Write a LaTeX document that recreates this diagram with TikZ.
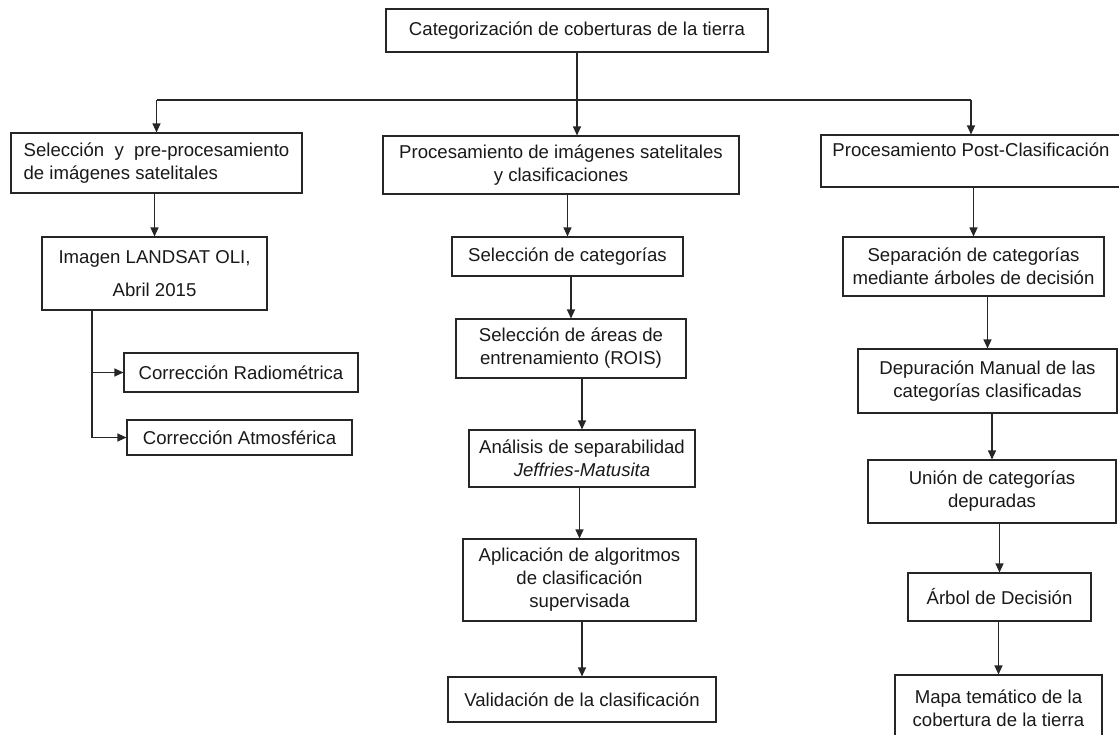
\documentclass[tikz,border=0pt]{standalone}
\usepackage{fontspec}
\setmainfont{Liberation Sans}
\usetikzlibrary{arrows.meta}
\begin{document}
\begin{tikzpicture}[x=1pt,y=-1pt,
  >={Triangle[length=9pt,width=8pt]},
  caja/.style={draw=black!85, line width=1.1pt, inner sep=2pt, align=center,
    text=black!90, font=\fontsize{18.6}{23}\selectfont},
  flecha/.style={->, draw=black!85, line width=1.1pt}]
\useasboundingbox (0,0) rectangle (1119,734);
% nivel superior
\node[caja, minimum width=382, minimum height=43] (cat) at (577,30.5) {Categorización de coberturas de la tierra};
\node[caja, align=left, minimum width=291, minimum height=60] (sel) at (156.5,163) {Selección\ \ y\ \ pre-procesamiento\\de imágenes satelitales};
\node[caja, minimum width=356, minimum height=58] (proc) at (561,165) {Procesamiento de imágenes satelitales\\y clasificaciones};
\node[caja, minimum width=300, minimum height=52] (post) at (971,161) {Procesamiento Post-Clasificación\\\mbox{}};
\coordinate (bus) at (0,100);
\coordinate (ramal) at (92,0);
% columna izquierda
\node[caja, minimum width=225, minimum height=73] (img) at (154.5,273.5) {Imagen LANDSAT OLI,\\[10pt]Abril 2015};
\node[caja, minimum width=234, minimum height=39] (rad) at (241,372.5) {Corrección Radiométrica};
\node[caja, minimum width=225, minimum height=35] (atm) at (239.5,437.5) {Corrección Atmosférica};
% columna central
\node[caja, minimum width=231, minimum height=39] (cats) at (567.5,256.5) {Selección de categorías};
\node[caja, minimum width=230, minimum height=59] (roi) at (571,348.5) {Selección de áreas de\\entrenamiento (ROIS)};
\node[caja, minimum width=226, minimum height=57] (ana) at (582,458.5) {Análisis de separabilidad\\\textit{Jeffries-Matusita}};
\node[caja, minimum width=233, minimum height=82] (apl) at (579.5,580) {Aplicación de algoritmos\\de clasificación\\supervisada};
\node[caja, minimum width=268, minimum height=45] (val) at (582,699.5) {Validación de la clasificación};
% columna derecha
\node[caja, minimum width=261, minimum height=59] (sep) at (973.5,266.5) {Separación de categorías\\mediante árboles de decisión};
\node[caja, minimum width=259, minimum height=64] (dep) at (987.5,381) {Depuración Manual de las\\categorías clasificadas};
\node[caja, minimum width=248, minimum height=63] (uni) at (992,491.5) {Unión de categorías\\depuradas};
\node[caja, minimum width=183, minimum height=48] (arb) at (999.5,597) {Árbol de Decisión};
\node[caja, minimum width=207, minimum height=66] (mapa) at (998.5,708) {Mapa temático de la\\cobertura de la tierra};
% conectores
\draw[flecha, -] (cat.south) -- (cat.south |- bus);
\draw[flecha, -] (sel.north |- bus) -- (post.north |- bus);
\draw[flecha] (sel.north |- bus) -- (sel.north);
\draw[flecha] (cat.south |- bus) -- (cat.south |- proc.north);
\draw[flecha] (post.north |- bus) -- (post.north);
\draw[flecha] (sel.south -| img.north) -- (img.north);
\draw[flecha] (img.south -| ramal) |- (atm.west);
\draw[flecha] (ramal |- rad.west) -- (rad.west);
\draw[flecha] (proc.south -| cats.north) -- (cats.north);
\draw[flecha] (cats.south -| roi.north) -- (roi.north);
\draw[flecha] (roi.south -| ana.north) -- (ana.north);
\draw[flecha] (ana.south -| apl.north) -- (apl.north);
\draw[flecha] (apl.south -| val.north) -- (val.north);
\draw[flecha] (post.south -| sep.north) -- (sep.north);
\draw[flecha] (sep.south -| dep.north) -- (dep.north);
\draw[flecha] (dep.south -| uni.north) -- (uni.north);
\draw[flecha] (uni.south -| arb.north) -- (arb.north);
\draw[flecha] (arb.south -| mapa.north) -- (mapa.north);
\end{tikzpicture}
\end{document}
